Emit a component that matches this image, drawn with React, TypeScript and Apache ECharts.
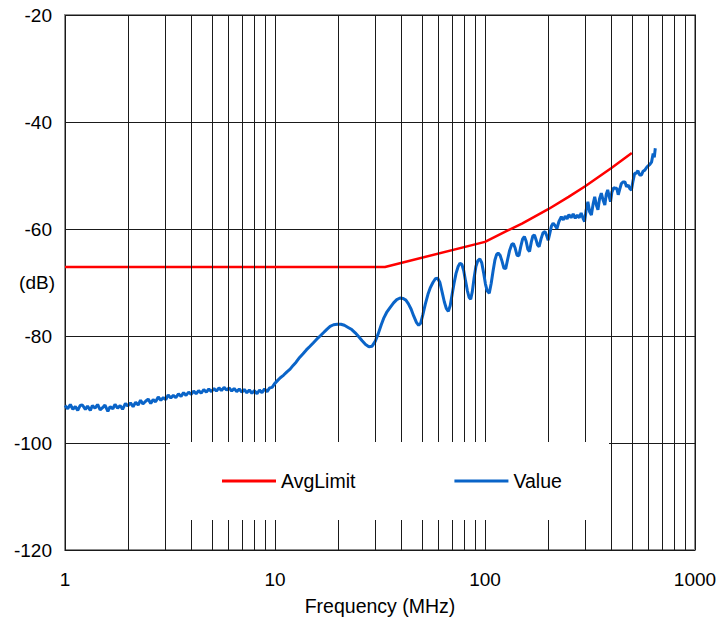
import React, { useEffect, useRef } from "react";
import * as echarts from "echarts";

const FONT = "'Liberation Sans', Arial, sans-serif";

const limitFreq = [1, 33.4, 100, 125, 150, 200, 250, 300, 400, 500];
const limitDb = [-67.1, -67.1, -62.4, -60.5, -59.0, -56.3, -54.0, -52.0, -48.6, -45.8];

const valueFreq = [
  1.0, 1.03, 1.06, 1.09, 1.12, 1.15, 1.18, 1.21, 1.25, 1.28, 1.32, 1.35, 1.39, 1.43, 1.47, 1.51,
  1.55, 1.6, 1.64, 1.69, 1.73, 1.78, 1.83, 1.88, 1.94, 1.99, 2.05, 2.11, 2.17, 2.23, 2.29, 2.35,
  2.42, 2.49, 2.56, 2.63, 2.7, 2.78, 2.86, 2.94, 3.02, 3.1, 3.19, 3.28, 3.37, 3.47, 3.57, 3.67,
  3.77, 3.88, 3.99, 4.1, 4.21, 4.33, 4.45, 4.58, 4.71, 4.84, 4.98, 5.12, 5.26, 5.41, 5.56, 5.72,
  5.88, 6.05, 6.22, 6.39, 6.57, 6.76, 6.95, 7.14, 7.34, 7.55, 7.76, 7.98, 8.21, 8.44, 8.67, 8.92,
  9.17, 9.43, 9.69, 9.96,
  10.3, 10.6, 11.0, 11.4, 11.8, 12.2, 12.6, 13.1, 13.6, 14.1, 14.6, 15.2, 15.8, 16.4, 17.0, 17.6,
  18.3, 19.0, 19.8, 20.6, 21.4, 22.3, 23.2, 24.1, 25.0, 26.0, 27.0, 28.0, 29.0, 30.0, 31.0, 32.0,
  33.0, 34.0, 35.3, 36.7, 38.0, 39.4, 40.8, 42.0, 43.2, 44.5, 45.8, 47.2, 48.3, 49.4, 50.6, 52.0,
  53.5, 55.0, 56.5, 58.0, 59.5, 61.0, 62.5, 64.0, 65.5, 66.9, 68.3, 69.7, 71.2, 72.8, 74.5, 76.0,
  77.6, 79.2, 80.8, 82.4, 84.0, 85.5, 87.0, 88.7, 90.5, 92.5, 94.5, 96.5, 98.5, 100.5, 102.5, 104.8,
  107, 109.3, 111.5, 113.5, 115.5, 118, 120.5, 123, 125.5, 128, 131, 134, 136.5, 139, 142, 145,
  148, 151, 154, 157, 160, 163, 166, 169, 172, 175, 178, 181, 185, 189, 193, 197,
  200, 203, 207, 211, 215, 220, 225, 231, 236, 241, 246, 251, 257, 263, 269, 275,
  281, 287, 293, 298, 303, 309, 315, 321, 327, 333, 339, 345, 351, 358, 365, 372,
  378, 384, 390, 396, 402, 410, 418, 424, 431, 438, 446, 455, 464, 472, 481, 490,
  498, 507, 516, 525, 535, 545, 556, 566, 577, 588, 598, 610, 621, 632, 640, 647,
];

const valueDb = [
  -93.0, -93.6, -92.8, -93.7, -93.2, -93.9, -93.0, -92.9, -93.7, -93.1, -93.9, -93.0, -93.5, -92.8, -93.8, -93.4,
  -92.9, -94.1, -93.2, -93.6, -92.8, -93.5, -93.0, -93.7, -92.6, -93.1, -92.5, -93.2, -92.4, -92.9, -92.0, -92.7,
  -92.2, -91.8, -92.6, -91.9, -92.3, -91.4, -92.0, -91.5, -91.9, -91.0, -91.6, -91.1, -91.5, -90.8, -91.3, -90.6,
  -91.1, -90.5, -90.9, -90.3, -90.8, -90.2, -90.7, -90.0, -90.5, -89.9, -90.4, -89.8, -90.3, -89.7, -90.2, -89.6,
  -90.1, -89.7, -90.3, -89.8, -90.4, -89.9, -90.5, -90.0, -90.6, -90.1, -90.7, -90.2, -90.8, -90.1, -90.6, -89.9,
  -90.4, -89.7, -89.6, -88.9,
  -88.3, -87.8, -87.3, -86.7, -86.2, -85.5, -84.9, -84.0, -83.3, -82.6, -82.0, -81.3, -80.6, -80.0, -79.4, -78.8,
  -78.2, -77.9, -77.8, -77.8, -78.0, -78.4, -78.8, -79.4, -80.1, -80.9, -81.6, -82.0, -81.9, -81.0, -79.6, -78.0,
  -76.6, -75.6, -74.7, -73.8, -73.2, -72.9, -73.0, -73.3, -74.0, -75.0, -76.3, -77.5, -78.0, -77.6, -76.0, -74.0,
  -72.2, -70.9, -70.0, -69.3, -69.2, -70.0, -71.8, -73.6, -74.9, -75.4, -74.3, -72.3, -70.2, -68.3, -67.0, -66.4,
  -66.6, -67.8, -69.7, -71.5, -72.8, -73.1, -71.7, -69.2, -67.0, -65.9, -65.6, -66.3, -68.2, -70.3, -71.6, -72.0,
  -70.2, -67.8, -65.8, -64.8, -64.5, -64.9, -66.0, -67.3, -67.4, -65.8, -64.0, -62.9, -62.7, -63.5, -64.9, -65.0,
  -63.3, -61.9, -61.4, -62.3, -63.8, -64.2, -62.5, -61.3, -61.1, -62.0, -63.0, -63.3, -61.8, -60.7, -60.5, -61.3,
  -62.1, -61.0, -59.5, -58.9, -59.3, -59.9, -58.6, -57.7, -58.3, -57.6, -58.1, -57.3, -57.9, -57.2, -58.0, -57.4,
  -57.9, -57.0, -58.0, -58.6, -56.5, -54.9, -56.8, -57.4, -55.4, -54.0, -55.5, -56.4, -54.4, -53.3, -54.6, -55.5,
  -53.5, -52.7, -53.9, -54.9, -53.1, -52.3, -52.4, -52.4, -53.6, -52.6, -51.5, -51.2, -51.2, -52.1, -51.8, -52.5,
  -52.7, -51.0, -49.6, -49.6, -49.1, -49.9, -49.9, -49.2, -49.0, -48.5, -48.2, -47.9, -47.5, -45.9, -46.6, -44.9,
];

const minorGridFreqs = [
  2, 3, 4, 5, 6, 7, 8, 9,
  20, 30, 40, 50, 60, 70, 80, 90,
  200, 300, 400, 500, 600, 700, 800, 900,
];

const seriesNames = ["AvgLimit", "Value"];

export default function App() {
  const ref = useRef<HTMLDivElement>(null);
  useEffect(() => {
    if (!ref.current) return;
    document.body.style.margin = "0";
    const chart = echarts.init(ref.current, undefined, { renderer: "svg" });
    const limitData = limitFreq.map((f, i) => [f, limitDb[i]]);
    const valueData = valueFreq.map((f, i) => [f, valueDb[i]]);
    chart.setOption({
      animation: false,
      backgroundColor: "#ffffff",
      textStyle: { fontFamily: FONT },
      grid: {
        left: 65,
        right: 23,
        top: 15,
        bottom: 69,
        show: true,
        borderColor: "#8c8c8c",
        borderWidth: 2,
        backgroundColor: "transparent",
        outerBoundsMode: "none",
        containLabel: false,
        z: 0,
      },
      legend: {
        data: seriesNames,
        left: 222,
        top: 471,
        padding: 0,
        itemWidth: 54,
        itemHeight: 3,
        itemGap: 99,
        icon: "rect",
        textStyle: { fontSize: 19.5, color: "#000", fontFamily: FONT },
        z: 60,
      },
      xAxis: {
        type: "log",
        logBase: 10,
        min: 1,
        max: 1000,
        name: "Frequency (MHz)",
        nameLocation: "middle",
        nameGap: 46,
        nameMoveOverlap: false,
        nameTextStyle: { fontSize: 19.5, color: "#000", fontFamily: FONT },
        axisLine: { show: false },
        axisTick: { show: false },
        axisLabel: {
          fontSize: 19,
          color: "#000",
          margin: 20,
          fontFamily: FONT,
          formatter: (v: number) => String(Math.round(v)),
        },
        splitLine: { show: true, lineStyle: { color: "#1a1a1a", width: 1 } },
      },
      yAxis: {
        type: "value",
        min: -120,
        max: -20,
        interval: 20,
        name: "(dB)",
        nameLocation: "middle",
        nameRotate: 0,
        nameGap: 10,
        nameMoveOverlap: false,
        nameTextStyle: {
          fontSize: 19,
          color: "#000",
          fontFamily: FONT,
          align: "right",
          verticalAlign: "middle",
        },
        axisLine: { show: false },
        axisTick: { show: false },
        axisLabel: { fontSize: 19, color: "#000", margin: 13, fontFamily: FONT },
        splitLine: { show: true, lineStyle: { color: "#1a1a1a", width: 1 } },
      },
      graphic: {
        elements: [
          {
            type: "rect",
            shape: { x: 170, y: 442, width: 439, height: 78 },
            style: { fill: "#ffffff" },
            z: 50,
            silent: true,
          },
        ],
      },
      series: [
        {
          name: "minorGrid",
          type: "line",
          data: [],
          z: 1,
          silent: true,
          markLine: {
            silent: true,
            symbol: ["none", "none"],
            label: { show: false },
            lineStyle: { color: "#1a1a1a", width: 1, type: "solid" },
            data: minorGridFreqs.map((f) => ({ xAxis: f })),
          },
        },
        {
          name: "AvgLimit",
          type: "line",
          data: limitData,
          showSymbol: false,
          symbol: "none",
          lineStyle: { color: "#ff0000", width: 2.5 },
          itemStyle: { color: "#ff0000" },
          z: 3,
        },
        {
          name: "Value",
          type: "line",
          data: valueData,
          showSymbol: false,
          symbol: "none",
          lineStyle: { color: "#0a64c8", width: 3 },
          itemStyle: { color: "#0a64c8" },
          z: 4,
        },
      ],
    });
    return () => chart.dispose();
  }, []);
  return (
    <div
      ref={ref}
      style={{ width: 718, height: 619, position: "absolute", left: 0, top: 0 }}
    />
  );
}
